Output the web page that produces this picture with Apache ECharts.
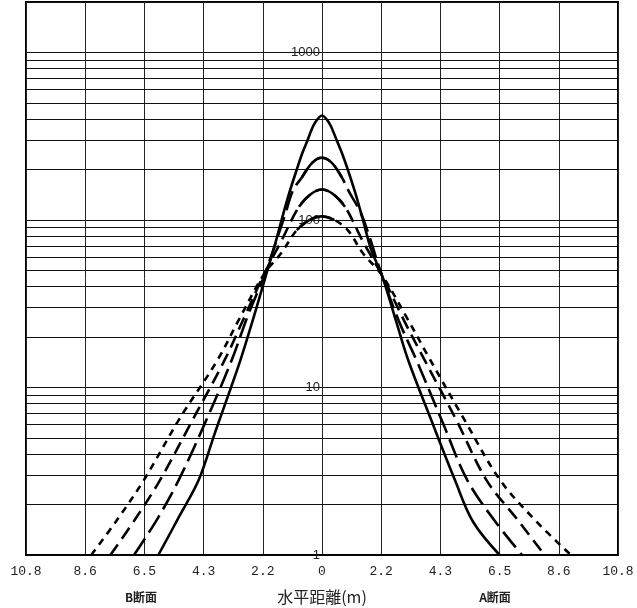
<!DOCTYPE html>
<html>
<head>
<meta charset="utf-8">
<script src="https://cdn.jsdelivr.net/npm/echarts@6/dist/echarts.min.js"></script>
<style>
html,body{margin:0;padding:0;background:#fff;}
#chart{width:637px;height:608px;}
</style>
</head>
<body>
<div id="chart"></div>
<script>
// y labelled decades and minor grid values (log scale)
const yDecades = [1, 10, 100, 1000];
const yMinorGrid = [2,3,4,5,6,7,8,9,20,30,40,50,60,70,80,90,200,300,400,500,600,700,800,900];

// curve 1 (solid)
const curve1X = [-5.97, -5.2, -4.5, -3.9, -3.32, -2.98, -2.5, -2.04, -1.75, -1.46, -1.2, -0.92, -0.72, -0.53, -0.4, -0.27, 0, 0.27, 0.4, 0.54, 0.73, 0.94, 1.22, 1.48, 1.8, 2.18, 2.7, 3.15, 4.0, 4.85, 5.51, 6.48];
const curve1Y = [1, 1.71, 2.8, 5.4, 10, 14.5, 26, 47, 68, 102, 144, 200, 250, 298, 340, 377, 420, 377, 340, 298, 250, 200, 144, 102, 66, 47, 25, 14.5, 6.3, 2.8, 1.58, 1];
// curve 2 (long dash)
const curve2X = [-6.86, -6.0, -5.23, -4.2, -3.3, -2.7, -2.1, -1.35, -1.06, -0.73, -0.35, 0, 0.35, 0.72, 0.96, 1.45, 2.18, 2.8, 3.45, 4.4, 5.3, 6.3, 7.3];
const curve2Y = [1, 1.65, 2.8, 6.5, 14.5, 27, 47, 107, 150, 180, 220, 235, 220, 180, 150, 107, 47, 25, 14.5, 6.2, 2.8, 1.6, 1];
// curve 3 (dash)
const curve3X = [-7.72, -6.8, -5.91, -4.7, -3.56, -2.8, -2.1, -1.5, -0.84, -0.4, 0, 0.4, 0.84, 1.5, 2.18, 3.0, 3.75, 4.9, 6.0, 7.1, 8.12];
const curve3Y = [1, 1.65, 2.8, 6.5, 14.5, 27, 48, 74, 120, 143, 152, 143, 120, 74, 47, 25, 14.5, 6.4, 2.8, 1.65, 1];
// curve 4 (short dash)
const curve4X = [-8.42, -7.5, -6.5, -5.2, -3.82, -3.0, -2.1, -1.5, -0.92, -0.45, 0, 0.45, 0.94, 1.5, 2.18, 3.1, 3.96, 5.2, 6.5, 7.8, 9.08];
const curve4Y = [1, 1.6, 2.8, 6.5, 14.5, 26, 48, 63, 87, 100, 105, 100, 87, 63, 47, 26, 14.5, 6.4, 2.8, 1.6, 1];

const xLabelB = 'B断面';
const xLabelA = 'A断面';
const xAxisTitle = '水平距離(m)';

function zip(xs, ys) { return xs.map((x, i) => [x, ys[i]]); }
function core(xs, ys, half) { return zip(xs, ys).filter(p => Math.abs(p[0]) <= half + 1e-9); }

const GRID_LEFT = 26, GRID_RIGHT = 19, CHART_W = 637;
const chart = echarts.init(document.getElementById('chart'));
const lineBase = { type: 'line', showSymbol: false, symbol: 'none', smooth: 0.35, silent: true, z: 5 };
const W = 2.6;

chart.setOption({
  animation: false,
  backgroundColor: '#fff',
  grid: { left: GRID_LEFT, right: GRID_RIGHT, top: 2, bottom: 53, show: true, borderColor: '#000', borderWidth: 2, backgroundColor: 'transparent', containLabel: false, outerBoundsMode: 'none' },
  xAxis: {
    type: 'value', min: -10.8, max: 10.8, interval: 2.16,
    axisLine: { show: true, onZero: false, lineStyle: { color: '#000', width: 1.5 } },
    axisTick: { show: false },
    splitLine: { show: true, lineStyle: { color: '#222', width: 1 } },
    axisLabel: {
      margin: 10, color: '#222', fontSize: 13, fontFamily: 'Liberation Mono',
      formatter: function (v) { const a = Math.abs(v); return a < 1e-9 ? '0' : a.toFixed(1); }
    }
  },
  yAxis: {
    type: 'log', logBase: 10, min: 1, max: 2000,
    position: 'left',
    offset: -((CHART_W - GRID_LEFT - GRID_RIGHT) / 2),
    axisLine: { show: false, onZero: false },
    axisTick: { show: false },
    axisLabel: {
      show: true, margin: 2, color: '#222', fontSize: 13, fontFamily: 'Liberation Sans',
      formatter: function (v) { return yDecades.some(d => Math.abs(d - v) < 1e-6) ? String(Math.round(v)) : ''; }
    },
    splitLine: { show: true, lineStyle: { color: '#111', width: 1 } }
  },
  graphic: [
    { type: 'text', x: 322, y: 597, style: { text: xAxisTitle, fontSize: 16, fontFamily: 'Noto Sans CJK JP', fill: '#222', textAlign: 'center', textVerticalAlign: 'middle' } },
    { type: 'text', x: 141, y: 597, style: { text: xLabelB, fontSize: 12, fontWeight: 'bold', fontFamily: 'Noto Sans CJK JP', fill: '#222', textAlign: 'center', textVerticalAlign: 'middle' } },
    { type: 'text', x: 495, y: 597, style: { text: xLabelA, fontSize: 12, fontWeight: 'bold', fontFamily: 'Noto Sans CJK JP', fill: '#222', textAlign: 'center', textVerticalAlign: 'middle' } }
  ],
  series: [
    Object.assign({}, lineBase, {
      name: 'c1', data: zip(curve1X, curve1Y),
      lineStyle: { color: '#000', width: W, type: 'solid' },
      markLine: {
        silent: true, symbol: 'none', label: { show: false },
        lineStyle: { color: '#111', width: 1, type: 'solid' },
        data: yMinorGrid.map(v => ({ yAxis: v }))
      }
    }),
    Object.assign({}, lineBase, { name: 'c2', data: zip(curve2X, curve2Y), lineStyle: { color: '#000', width: W, type: [20, 7] } }),
    Object.assign({}, lineBase, { name: 'c2core', data: core(curve2X, curve2Y, 0.73), lineStyle: { color: '#000', width: W, type: 'solid' } }),
    Object.assign({}, lineBase, { name: 'c3', data: zip(curve3X, curve3Y), lineStyle: { color: '#000', width: W, type: [13, 7] } }),
    Object.assign({}, lineBase, { name: 'c3core', data: core(curve3X, curve3Y, 0.84), lineStyle: { color: '#000', width: W, type: 'solid' } }),
    Object.assign({}, lineBase, { name: 'c4', data: zip(curve4X, curve4Y), lineStyle: { color: '#000', width: W, type: [7, 6] } }),
    Object.assign({}, lineBase, { name: 'c4core', data: core(curve4X, curve4Y, 0.92), lineStyle: { color: '#000', width: W, type: 'solid' } })
  ]
});
</script>
</body>
</html>
